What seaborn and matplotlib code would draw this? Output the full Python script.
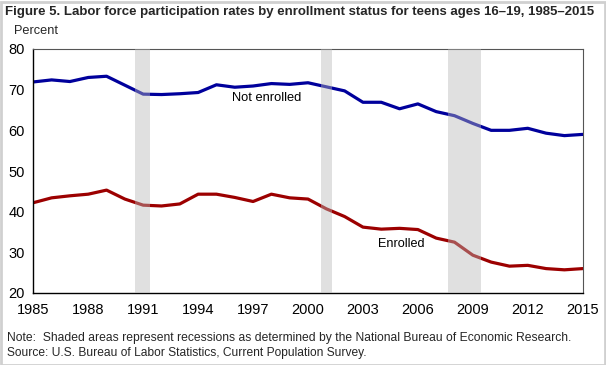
import matplotlib
matplotlib.use("Agg")
import matplotlib.pyplot as plt
import seaborn as sns
import pandas as pd
from matplotlib.patches import Rectangle

years = list(range(1985, 2016))
not_enrolled = [71.9, 72.4, 72.0, 73.0, 73.3, 71.1, 68.9, 68.8, 69.0, 69.3,
                71.2, 70.6, 70.9, 71.5, 71.3, 71.7, 70.7, 69.7, 66.9, 66.9,
                65.3, 66.5, 64.6, 63.6, 61.7, 60.0, 60.0, 60.5, 59.3, 58.7, 59.0]
enrolled = [42.2, 43.4, 43.9, 44.3, 45.3, 43.1, 41.6, 41.4, 41.9, 44.3,
            44.3, 43.5, 42.5, 44.3, 43.4, 43.1, 40.7, 38.8, 36.2, 35.7,
            35.9, 35.6, 33.5, 32.5, 29.3, 27.6, 26.6, 26.8, 26.0, 25.7, 26.0]
recessions = [(1990.56, 1991.36), (2000.71, 2001.30), (2007.67, 2009.43)]
x_tick_labels = [1985, 1988, 1991, 1994, 1997, 2000, 2003, 2006, 2009, 2012, 2015]
y_ticks = [20, 30, 40, 50, 60, 70, 80]

sns.set_theme(style="white")
plt.rcParams['font.family'] = ['Liberation Sans', 'DejaVu Sans']

df = pd.DataFrame({"year": years * 2,
                   "rate": not_enrolled + enrolled,
                   "status": ["Not enrolled"] * len(years) + ["Enrolled"] * len(years)})

W, H = 606, 365
fig = plt.figure(figsize=(6.06, 3.65), dpi=100)
ax = fig.add_axes([33.3 / W, 1 - 293 / H, (582.7 - 33.3) / W, (293 - 49) / H])

sns.lineplot(data=df, x="year", y="rate", hue="status",
             palette={"Not enrolled": "#00009c", "Enrolled": "#9c0000"},
             linewidth=2.3, legend=False, ax=ax, zorder=2)

for a, b in recessions:
    ax.axvspan(a, b, color="#b8b8b8", alpha=0.43, lw=0, zorder=3)

ax.set_xlim(1985, 2015)
ax.set_ylim(20, 80)
ax.set_xticks(years)
ax.set_xticklabels([str(y) if y in x_tick_labels else "" for y in years])
ax.set_yticks(y_ticks)
ax.tick_params(axis="both", direction="in", length=5, width=0.9, colors="black",
               labelsize=10.5)
ax.tick_params(axis="x", pad=7)
ax.tick_params(axis="y", pad=6)
ax.set_xlabel("")
ax.set_ylabel("")
for s in ["left", "bottom"]:
    ax.spines[s].set_color("black")
    ax.spines[s].set_linewidth(1.0)
for s in ["top", "right"]:
    ax.spines[s].set_color("#555555")
    ax.spines[s].set_linewidth(0.8)

renderer = fig.canvas.get_renderer()


def fit(t, target_px):
    w = t.get_window_extent(renderer=renderer).width
    t.set_fontsize(t.get_fontsize() * target_px / w)
    return t


fit(ax.text(1997.75, 68.0, "Not enrolled", ha="center", va="center", fontsize=11,
            color="black", zorder=5), 69)
fit(ax.text(2005.1, 32.0, "Enrolled", ha="center", va="center", fontsize=11,
            color="black", zorder=5), 46)

fit(fig.text(5 / W, 1 - 12 / H,
             "Figure 5. Labor force participation rates by enrollment status for teens ages 16\u201319, 1985\u20132015",
             fontsize=11.5, fontweight="bold", ha="left", va="center"), 595)
fit(fig.text(14 / W, 1 - 31 / H, "Percent", fontsize=10.5, ha="left", va="center"), 44)
fit(fig.text(7 / W, 1 - 338 / H,
             "Note:  Shaded areas represent recessions as determined by the National Bureau of Economic Research.",
             fontsize=10.5, ha="left", va="center"), 567)
fit(fig.text(7 / W, 1 - 353 / H,
             "Source: U.S. Bureau of Labor Statistics, Current Population Survey.",
             fontsize=10.5, ha="left", va="center"), 360)

fig.patches.append(Rectangle((0.5 / W, 0.5 / H), 1 - 2 / W, 1 - 2 / H,
                             transform=fig.transFigure, fill=False,
                             edgecolor="#d0d0d0", linewidth=2))

fig.savefig("out.png", dpi=100)
